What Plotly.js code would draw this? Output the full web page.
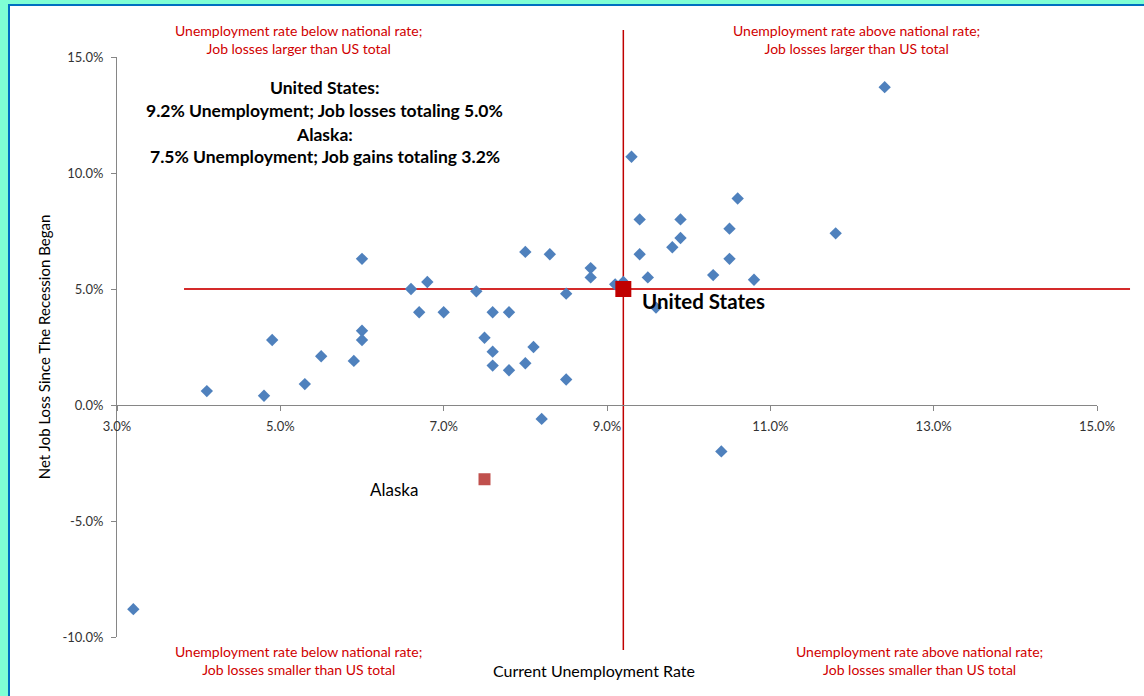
<!DOCTYPE html>
<html>
<head>
<meta charset="utf-8">
<script src="https://cdn.plot.ly/plotly-3.0.1.min.js"></script>
<style>
  html, body { margin: 0; padding: 0; background: #ffffff; }
  #wrap { position: relative; width: 1144px; height: 696px; overflow: hidden; }
  #chart { width: 1144px; height: 696px; }
  .frame { position: absolute; pointer-events: none; }
</style>
</head>
<body>
<div id="wrap">
  <div id="chart"></div>
  <div class="frame" style="left:0;top:0;width:1144px;height:4px;background:#7fffd4;"></div>
  <div class="frame" style="left:0;top:0;width:8px;height:696px;background:#7fffd4;"></div>
  <div class="frame" style="left:8px;top:4px;width:1136px;height:2px;background:#0070c0;"></div>
  <div class="frame" style="left:8px;top:4px;width:2px;height:692px;background:#0070c0;"></div>
</div>
<script>
// ---- data (percent) ----
const unemploymentRate = [
  3.2, 4.1, 4.8, 4.9, 5.3, 5.5, 5.9, 6.0, 6.0, 6.0,
  6.6, 6.7, 6.8, 7.0, 7.4, 7.5, 7.6, 7.6, 7.6, 7.8,
  7.8, 8.0, 8.0, 8.1, 8.2, 8.3, 8.5, 8.5, 8.8, 8.8,
  9.1, 9.2, 9.3, 9.4, 9.4, 9.5, 9.6, 9.8, 9.9, 9.9,
  10.3, 10.5, 10.5, 10.6, 10.8, 10.4, 11.8, 12.4
];
const netJobLoss = [
  -8.8, 0.6, 0.4, 2.8, 0.9, 2.1, 1.9, 6.3, 3.2, 2.8,
  5.0, 4.0, 5.3, 4.0, 4.9, 2.9, 4.0, 2.3, 1.7, 4.0,
  1.5, 6.6, 1.8, 2.5, -0.6, 6.5, 4.8, 1.1, 5.9, 5.5,
  5.2, 5.3, 10.7, 8.0, 6.5, 5.5, 4.2, 6.8, 8.0, 7.2,
  5.6, 7.6, 6.3, 8.9, 5.4, -2.0, 7.4, 13.7
];
const usRate = [9.2];
const usJobLoss = [5.0];
const alaskaRate = [7.5];
const alaskaJobLoss = [-3.2];

const xTickVals = [3, 5, 7, 9, 11, 13, 15];
const xTickText = ['3.0%', '5.0%', '7.0%', '9.0%', '11.0%', '13.0%', '15.0%'];
const yTickVals = [-10, -5, 0, 5, 10, 15];
const yTickText = ['-10.0%', '-5.0%', '0.0%', '5.0%', '10.0%', '15.0%'];

const quadrantNotes = [
  'Unemployment rate below national rate;<br>Job losses larger than US total',
  'Unemployment rate above national rate;<br>Job losses larger than US total',
  'Unemployment rate below national rate;<br>Job losses smaller than US total',
  'Unemployment rate above national rate;<br>Job losses smaller than US total'
];
const summaryLines = [
  'United States:',
  '9.2% Unemployment; Job losses totaling 5.0%',
  'Alaska:',
  '7.5% Unemployment; Job gains totaling 3.2%'
];
const xTitle = 'Current Unemployment Rate';
const yTitle = 'Net Job Loss Since The Recession Began';

// ---- chart ----
const FONT = 'Lato, "Liberation Sans", sans-serif';
const RED = '#d00000';

const traces = [
  {
    type: 'scatter', mode: 'markers', name: 'States',
    x: unemploymentRate, y: netJobLoss,
    marker: { symbol: 'diamond', size: 9.5, color: '#4f81bd' },
    cliponaxis: false, hoverinfo: 'x+y'
  },
  {
    type: 'scatter', mode: 'markers', name: 'Alaska',
    x: alaskaRate, y: alaskaJobLoss,
    marker: { symbol: 'square', size: 12, color: '#c0504d' },
    cliponaxis: false
  },
  {
    type: 'scatter', mode: 'markers', name: 'United States',
    x: usRate, y: usJobLoss,
    marker: { symbol: 'square', size: 16, color: '#c00000' },
    cliponaxis: false
  }
];

const annotations = [];
const quadPos = [
  { x: 0.1847, y: 1.031 },
  { x: 0.755, y: 1.031 },
  { x: 0.1847, y: -0.040 },
  { x: 0.819, y: -0.040 }
];
quadrantNotes.forEach((t, i) => {
  annotations.push({
    xref: 'paper', yref: 'paper', x: quadPos[i].x, y: quadPos[i].y,
    text: t, showarrow: false, xanchor: 'center', yanchor: 'middle',
    font: { family: FONT, size: 14, color: RED }, align: 'center'
  });
});
const summaryY = [0.9466, 0.9069, 0.8672, 0.8276];
summaryLines.forEach((t, i) => {
  annotations.push({
    xref: 'paper', yref: 'paper', x: 0.2122, y: summaryY[i],
    text: '<b>' + t + '</b>', showarrow: false, xanchor: 'center', yanchor: 'middle',
    font: { family: FONT, size: 17.5, color: '#000000' }
  });
});
annotations.push({
  xref: 'x', yref: 'y', x: usRate[0], y: usJobLoss[0],
  text: '<b>United States</b>', showarrow: false, xanchor: 'left', yanchor: 'middle',
  xshift: 17, yshift: -12, font: { family: FONT, size: 20.5, color: '#000000' }
});
annotations.push({
  xref: 'x', yref: 'y', x: alaskaRate[0], y: alaskaJobLoss[0],
  text: 'Alaska', showarrow: false, xanchor: 'right', yanchor: 'middle',
  xshift: -65, yshift: -10, font: { family: FONT, size: 17, color: '#000000' }
});
annotations.push({
  xref: 'paper', yref: 'paper', x: 0.4867, y: -0.0586,
  text: xTitle, showarrow: false, xanchor: 'center', yanchor: 'middle',
  font: { family: FONT, size: 16, color: '#000000' }
});

const shapes = [
  { type: 'line', xref: 'x', yref: 'paper', x0: usRate[0], x1: usRate[0], y0: -0.0224, y1: 1.0466,
    line: { color: '#c00000', width: 1.5 }, layer: 'below' },
  { type: 'line', xref: 'paper', yref: 'y', x0: 0.0684, x1: 1.0337, y0: usJobLoss[0], y1: usJobLoss[0],
    line: { color: '#d42a2a', width: 2 }, layer: 'below' }
];

const layout = {
  width: 1144, height: 696,
  margin: { l: 117, r: 47, t: 57, b: 59, pad: 0 },
  paper_bgcolor: '#ffffff', plot_bgcolor: '#ffffff',
  showlegend: false,
  font: { family: FONT, size: 13, color: '#333333' },
  xaxis: {
    range: [3, 15], tickmode: 'array', tickvals: xTickVals, ticktext: xTickText,
    ticks: 'outside', ticklen: 5, tickcolor: '#868686', tickwidth: 1,
    showline: true, linecolor: '#868686', linewidth: 1,
    showgrid: false, zeroline: false,
    anchor: 'free', position: 0.4, ticklabelstandoff: 4,
    tickfont: { family: FONT, size: 13, color: '#333333' }
  },
  yaxis: {
    range: [-10, 15], tickmode: 'array', tickvals: yTickVals, ticktext: yTickText,
    ticks: 'outside', ticklen: 5, tickcolor: '#868686', tickwidth: 1,
    showline: true, linecolor: '#868686', linewidth: 1,
    showgrid: false, zeroline: false, ticklabelstandoff: 5,
    tickfont: { family: FONT, size: 13, color: '#333333' },
    title: { text: yTitle, font: { family: FONT, size: 15, color: '#000000' }, standoff: 8 }
  },
  annotations: annotations,
  shapes: shapes
};

Plotly.newPlot('chart', traces, layout, { displayModeBar: false, staticPlot: true });
</script>
</body>
</html>
